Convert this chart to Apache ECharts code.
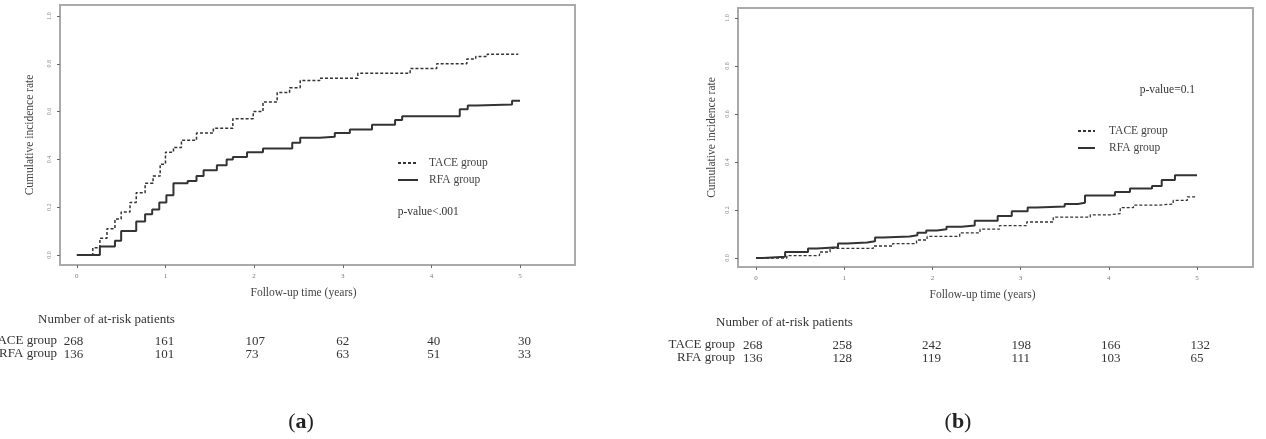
<!DOCTYPE html>
<html><head><meta charset="utf-8">
<script src="https://cdn.jsdelivr.net/npm/echarts@6/dist/echarts.min.js"></script>
<style>html,body{margin:0;padding:0;background:#fff}#c{width:1266px;height:439px}</style>
</head><body><div id="c"></div>
<script>
// ---- data ----
var xTicks = [0, 1, 2, 3, 4, 5];
var yTicks = [0, 0.2, 0.4, 0.6, 0.8, 1.0];
var groupNames = ['TACE group', 'RFA group'];

// Panel (a)
var aTaceT = [0, 0.18, 0.26, 0.34, 0.43, 0.5, 0.6, 0.67, 0.77, 0.86, 0.94, 1.0, 1.09, 1.18, 1.35, 1.54, 1.76, 1.99, 2.1, 2.26, 2.4, 2.52, 2.74, 3.17, 3.76, 4.06, 4.4, 4.5, 4.63, 4.98];
var aTaceV = [0, 0.03, 0.07, 0.11, 0.15, 0.18, 0.22, 0.26, 0.30, 0.33, 0.38, 0.43, 0.45, 0.48, 0.51, 0.53, 0.57, 0.60, 0.64, 0.68, 0.70, 0.73, 0.74, 0.76, 0.78, 0.80, 0.82, 0.83, 0.84, 0.84];
var aRfaT = [0, 0.26, 0.43, 0.5, 0.67, 0.77, 0.85, 0.93, 1.01, 1.09, 1.25, 1.35, 1.43, 1.58, 1.69, 1.76, 1.92, 2.1, 2.43, 2.52, 2.74, 2.91, 3.08, 3.33, 3.59, 3.67, 4.32, 4.41, 4.51, 4.91, 5.0];
var aRfaV = [0, 0.035, 0.06, 0.10, 0.14, 0.17, 0.19, 0.22, 0.25, 0.30, 0.31, 0.33, 0.355, 0.375, 0.40, 0.41, 0.43, 0.445, 0.47, 0.49, 0.495, 0.51, 0.525, 0.545, 0.565, 0.58, 0.61, 0.625, 0.63, 0.645, 0.645];
var aAtRiskTace = [268, 161, 107, 62, 40, 30];
var aAtRiskRfa = [136, 101, 73, 63, 51, 33];
var aPValue = 'p-value<.001';

// Panel (b)
var bTaceT = [0, 0.35, 0.72, 0.84, 1.33, 1.55, 1.82, 1.94, 2.31, 2.54, 2.76, 3.07, 3.37, 3.79, 4.01, 4.13, 4.28, 4.55, 4.73, 4.89, 5.0];
var bTaceV = [0, 0.01, 0.025, 0.04, 0.05, 0.06, 0.075, 0.09, 0.105, 0.12, 0.135, 0.15, 0.17, 0.18, 0.185, 0.21, 0.22, 0.225, 0.24, 0.255, 0.255];
var bRfaT = [0, 0.08, 0.33, 0.59, 0.69, 0.93, 1.03, 1.26, 1.35, 1.44, 1.74, 1.83, 1.93, 2.05, 2.16, 2.33, 2.48, 2.74, 2.9, 3.08, 3.18, 3.5, 3.65, 3.73, 4.07, 4.24, 4.49, 4.6, 4.75, 5.0];
var bRfaV = [0, 0.005, 0.025, 0.04, 0.045, 0.06, 0.065, 0.07, 0.085, 0.09, 0.095, 0.105, 0.115, 0.12, 0.13, 0.135, 0.155, 0.175, 0.195, 0.21, 0.215, 0.225, 0.23, 0.26, 0.275, 0.29, 0.30, 0.325, 0.345, 0.345];
var bAtRiskTace = [268, 258, 242, 198, 166, 132];
var bAtRiskRfa = [136, 128, 119, 111, 103, 65];
var bPValue = 'p-value=0.1';

// ---- chart ----
var SERIF = '"Liberation Serif", "DejaVu Serif", serif';
var LINE = '#333';
function zip(t, v) { return t.map(function (x, i) { return [x, v[i]]; }); }

function xAx(gi, min, max, padR, gap) {
  return {
    type: 'value', gridIndex: gi, min: min, max: max,
    axisLine: { show: false, onZero: false },
    axisTick: { show: true, customValues: xTicks, length: 3, lineStyle: { color: '#666', width: 1 } },
    axisLabel: { customValues: xTicks, fontSize: 7, color: '#777', margin: 8, fontFamily: SERIF },
    splitLine: { show: false },
    name: 'Follow-up time (years)', nameLocation: 'middle', nameGap: gap,
    nameTextStyle: { fontSize: 11.5, color: '#444', fontFamily: SERIF, padding: [0, padR, 0, 0] }
  };
}
function yAx(gi, min, max, gap) {
  return {
    type: 'value', gridIndex: gi, min: min, max: max,
    axisLine: { show: false, onZero: false },
    axisTick: { show: true, customValues: yTicks, length: 3, lineStyle: { color: '#666', width: 1 } },
    axisLabel: { customValues: yTicks, fontSize: 6, color: '#888', margin: 8, rotate: 90, fontFamily: SERIF,
      formatter: function (v) { return v.toFixed(1); } },
    splitLine: { show: false },
    name: 'Cumulative incidence rate', nameLocation: 'middle', nameGap: gap, nameRotate: 90,
    nameTextStyle: { fontSize: 11.5, color: '#444', fontFamily: SERIF }
  };
}
function ser(name, xi, data, dashed, w) {
  return {
    type: 'line', name: name, xAxisIndex: xi, yAxisIndex: xi, data: data, step: 'end',
    symbol: 'none', animation: false,
    lineStyle: { color: LINE, width: w, type: dashed ? [3, 2] : 'solid' },
    itemStyle: { color: LINE }
  };
}
function legend(left, top, w, padL) {
  return {
    data: groupNames, orient: 'vertical', left: left, top: top, padding: 0,
    itemWidth: w, itemHeight: 8, itemGap: 5,
    selectedMode: false,
    itemStyle: { opacity: 0 },
    textStyle: { fontSize: 11.5, color: '#444', fontFamily: SERIF, padding: [0, 0, 0, padL] }
  };
}

var chart = echarts.init(document.getElementById('c'), null, { renderer: 'canvas' });
var option = {
  animation: false,
  backgroundColor: '#fff',
  grid: [
    { left: 60, top: 5, width: 515, height: 260, show: true, borderColor: '#aaa', borderWidth: 2 },
    { left: 738, top: 8, width: 515, height: 259, show: true, borderColor: '#aaa', borderWidth: 2 }
  ],
  xAxis: [xAx(0, -0.19, 5.62, 28, 21.5), xAx(1, -0.204, 5.635, 26, 22)],
  yAxis: [yAx(0, -0.042, 1.046, 24), yAx(1, -0.0375, 1.042, 20)],
  legend: [legend(397, 157, 20, 6), legend(1077, 125, 17, 9)],
  series: [
    ser(groupNames[0], 0, zip(aTaceT, aTaceV), true, 1.5),
    ser(groupNames[1], 0, zip(aRfaT, aRfaV), false, 2),
    ser(groupNames[0], 1, zip(bTaceT, bTaceV), true, 1.3),
    ser(groupNames[1], 1, zip(bRfaT, bRfaV), false, 2)
  ]
};
chart.setOption(option);

// ---- at-risk tables, p-values and panel labels ----
var g = [];
function txt(x, y, s, size, align) {
  return { type: 'text', x: x, y: y, style: { text: s, fontSize: size, fontFamily: SERIF, fill: '#333', align: align || 'left', verticalAlign: 'middle' } };
}
function table(xi, tace, rfa, labelRight, titleX, titleY, row1Y, row2Y, drift) {
  g.push(txt(titleX, titleY, 'Number of at-risk patients', 13));
  g.push(txt(labelRight, row1Y, groupNames[0], 13, 'right'));
  g.push(txt(labelRight, row2Y, groupNames[1], 13, 'right'));
  xTicks.forEach(function (t, i) {
    var px = chart.convertToPixel({ xAxisIndex: xi }, t) - 13 + drift * i;
    g.push(txt(px, row1Y + 1, String(tace[i]), 13));
    g.push(txt(px, row2Y + 1, String(rfa[i]), 13));
  });
}
table(0, aAtRiskTace, aAtRiskRfa, 57, 38, 320, 341, 354, 2.2);
table(1, bAtRiskTace, bAtRiskRfa, 735, 716, 323, 345, 358, 1.3);

var pa = chart.convertToPixel({ xAxisIndex: 0, yAxisIndex: 0 }, [3.62, 0.18]);
g.push(txt(pa[0], pa[1], aPValue, 11.5));
var pb = chart.convertToPixel({ xAxisIndex: 1, yAxisIndex: 1 }, [4.35, 0.7]);
g.push(txt(pb[0], pb[1], bPValue, 11.5));

function panelLabel(cx, letter) {
  return { type: 'text', x: cx, y: 422, style: { text: '{p|(}{b|' + letter + '}{p|)}', align: 'center', verticalAlign: 'middle',
    rich: { p: { fontSize: 22, fontFamily: SERIF, fill: '#222' }, b: { fontSize: 22, fontFamily: SERIF, fontWeight: 'bold', fill: '#222' } } } };
}
g.push(panelLabel(301, 'a'));
g.push(panelLabel(958, 'b'));

chart.setOption({ graphic: g });
</script></body></html>
